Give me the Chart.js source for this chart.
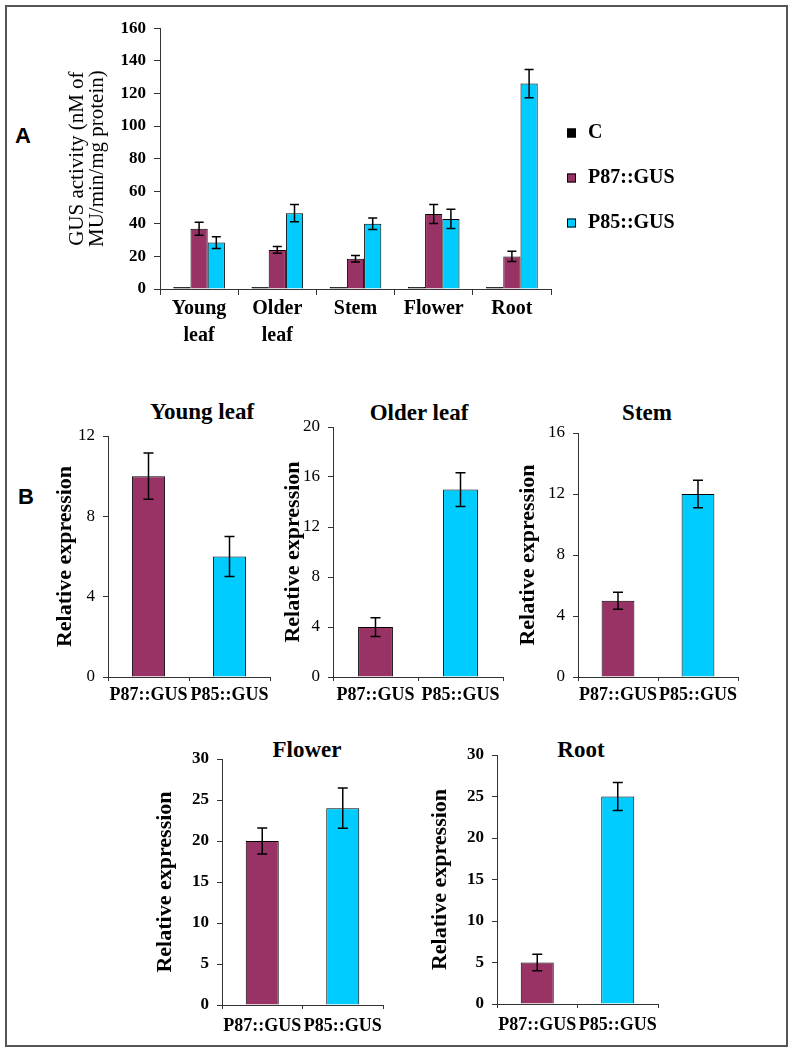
<!DOCTYPE html>
<html>
<head>
<meta charset="utf-8">
<script src="https://cdn.jsdelivr.net/npm/chart.js@4.4.1/dist/chart.umd.min.js"></script>
<style>
  body { margin: 0; background: #fff; }
  #fig { position: relative; width: 794px; height: 1053px; }
  #frame { position: absolute; left: 5px; top: 5px; width: 783px; height: 1042px; border: 2px solid #555; box-sizing: border-box; }
  canvas { position: absolute; }
  .lbl { position: absolute; transform: translate(-50%, -50%); font-family: 'Times New Roman', 'Liberation Serif', serif; font-weight: bold; white-space: nowrap; color: #000; }
  .panel { font-family: Arial, 'Liberation Sans', sans-serif; font-size: 22px; }
  .ttl { font-size: 23px; }
</style>
</head>
<body>
<div id="fig">
  <div id="frame"></div>
  <div class="lbl panel" style="left:23px;top:136px">A</div>
  <div class="lbl panel" style="left:26px;top:497px">B</div>
  <div class="lbl ttl" style="left:202px;top:412px">Young leaf</div>
  <div class="lbl ttl" style="left:419px;top:413px">Older leaf</div>
  <div class="lbl ttl" style="left:647px;top:413px">Stem</div>
  <div class="lbl ttl" style="left:307px;top:750px">Flower</div>
  <div class="lbl ttl" style="left:581px;top:750px">Root</div>
  <canvas id="chartA" width="700" height="340" style="left:10px;top:10px"></canvas>
  <canvas id="chartYoung" width="240" height="320" style="left:40px;top:400px"></canvas>
  <canvas id="chartOlder" width="240" height="320" style="left:275px;top:400px"></canvas>
  <canvas id="chartStem" width="240" height="320" style="left:515px;top:400px"></canvas>
  <canvas id="chartFlower" width="250" height="320" style="left:150px;top:730px"></canvas>
  <canvas id="chartRoot" width="260" height="320" style="left:420px;top:730px"></canvas>
</div>
<script>
const SERIF = "'Times New Roman', 'Liberation Serif', serif";
const MAROON = '#993366';
const CYAN = '#00CCFF';

// Panel A: GUS activity
const tissues = [['Young', 'leaf'], ['Older', 'leaf'], 'Stem', 'Flower', 'Root'];
const controlGus = [0.5, 0.5, 0.5, 0.5, 1];
const p87Gus = [37, 24, 18.5, 46, 20];
const p85Gus = [28.5, 46.5, 40, 43, 126];
const p87GusErr = [4, 2, 2, 5.8, 3.2];
const p85GusErr = [3.6, 5.3, 3.5, 5.9, 8.6];

// Panel B: relative expression
const constructs = ['P87::GUS', 'P85::GUS'];
const youngLeafExpr = [10, 6];
const youngLeafErr = [1.15, 1.0];
const olderLeafExpr = [4, 15];
const olderLeafErr = [0.75, 1.35];
const stemExpr = [5, 12];
const stemErr = [0.55, 0.9];
const flowerExpr = [20, 24];
const flowerErr = [1.6, 2.45];
const rootExpr = [5, 25];
const rootErr = [1.0, 1.7];

// error bars drawn from dataset.errors
const errorBars = {
  id: 'errorBars',
  afterDatasetsDraw(chart, args, opts) {
    const ctx = chart.ctx;
    const y = chart.scales.y;
    const cap = opts.cap || 5;
    chart.data.datasets.forEach((ds, i) => {
      if (!ds.errors) return;
      const meta = chart.getDatasetMeta(i);
      meta.data.forEach((bar, j) => {
        const e = ds.errors[j];
        if (!e) return;
        const v = ds.data[j];
        const top = y.getPixelForValue(v + e);
        const bot = y.getPixelForValue(v - e);
        ctx.save();
        ctx.strokeStyle = '#000';
        ctx.lineWidth = 1.5;
        ctx.beginPath();
        ctx.moveTo(bar.x, top); ctx.lineTo(bar.x, bot);
        ctx.moveTo(bar.x - cap, top); ctx.lineTo(bar.x + cap, top);
        ctx.moveTo(bar.x - cap, bot); ctx.lineTo(bar.x + cap, bot);
        ctx.stroke();
        ctx.restore();
      });
    });
  }
};

// legend to the right of panel A
const sideLegend = {
  id: 'sideLegend',
  afterDraw(chart, args, opts) {
    if (!opts.show) return;
    const ctx = chart.ctx;
    ctx.save();
    ctx.font = 'bold 20px ' + SERIF;
    ctx.textBaseline = 'middle';
    chart.data.datasets.forEach((ds, i) => {
      const cy = opts.y + i * opts.gap;
      ctx.fillStyle = ds.backgroundColor;
      ctx.fillRect(opts.x, cy - 4.5, 9, 9);
      ctx.strokeStyle = '#000';
      ctx.lineWidth = 1;
      ctx.strokeRect(opts.x + 0.5, cy - 4, 8, 8);
      ctx.fillStyle = '#000';
      ctx.fillText(ds.label, opts.x + 21, cy);
    });
    ctx.restore();
  }
};

new Chart(document.getElementById('chartA'), {
  type: 'bar',
  data: {
    labels: tissues,
    datasets: [
      { label: 'C', data: controlGus, backgroundColor: '#000', minBarLength: 2 },
      { label: 'P87::GUS', data: p87Gus, errors: p87GusErr, backgroundColor: MAROON },
      { label: 'P85::GUS', data: p85Gus, errors: p85GusErr, backgroundColor: CYAN }
    ]
  },
  options: {
    responsive: false,
    animation: false,
    layout: { padding: { top: 14, right: 159, left: 0, bottom: 0 } },
    datasets: { bar: { categoryPercentage: 0.66, barPercentage: 1, borderColor: '#000', borderWidth: 1 } },
    plugins: {
      legend: { display: false },
      tooltip: { enabled: false },
      errorBars: { cap: 4.5 },
      sideLegend: { show: true, x: 557, y: 123, gap: 45 }
    },
    scales: {
      x: {
        afterFit(s) { s.height = 61; },
        grid: { drawOnChartArea: false, tickLength: 6, color: '#333' },
        border: { color: '#333', width: 1 },
        ticks: { color: '#000', padding: 0, maxRotation: 0, minRotation: 0, autoSkip: false,
                 font: { family: SERIF, size: 20, weight: 'bold', lineHeight: '27px' } }
      },
      y: {
        min: 0, max: 160,
        afterFit(s) { s.width = 150; },
        grid: { drawOnChartArea: false, tickLength: 6, color: '#333' },
        border: { color: '#333', width: 1 },
        ticks: { stepSize: 20, color: '#000', padding: 8, font: { family: SERIF, size: 17, weight: 'bold' } },
        title: {
          display: true,
          text: ['GUS activity (nM of', 'MU/min/mg protein)'],
          color: '#000',
          padding: { top: 57, bottom: 0 },
          font: { family: SERIF, size: 21, lineHeight: '20px' }
        }
      }
    }
  },
  plugins: [errorBars, sideLegend]
});

function expressionChart(id, values, errs, yMax, step, box) {
  new Chart(document.getElementById(id), {
    type: 'bar',
    data: {
      labels: constructs,
      datasets: [{ data: values, errors: errs, backgroundColor: [MAROON, CYAN], borderColor: '#000', borderWidth: 1 }]
    },
    options: {
      responsive: false,
      animation: false,
      layout: { padding: { top: box.top, right: box.right, left: 0, bottom: 0 } },
      datasets: { bar: { categoryPercentage: 1, barPercentage: 0.41 } },
      plugins: {
        legend: { display: false },
        tooltip: { enabled: false },
        errorBars: { cap: 5 }
      },
      scales: {
        x: {
          afterFit(s) { s.height = box.xh; },
          grid: { drawOnChartArea: false, tickLength: 4, color: '#333' },
          border: { color: '#333', width: 1 },
          ticks: { color: '#000', padding: box.labelPad, maxRotation: 0, minRotation: 0, autoSkip: false,
                   font: { family: SERIF, size: 18, weight: 'bold', lineHeight: 0.8 } }
        },
        y: {
          min: 0, max: yMax,
          afterFit(s) { s.width = box.yw; },
          grid: { drawOnChartArea: false, tickLength: 5, color: '#333' },
          border: { color: '#333', width: 1 },
          ticks: { stepSize: step, color: '#000', padding: 8, font: { family: SERIF, size: 17, weight: box.tickWeight } },
          title: {
            display: true,
            text: 'Relative expression',
            color: '#000',
            padding: { top: box.titlePad, bottom: 0 },
            font: { family: SERIF, size: 22, weight: 'bold', lineHeight: 1 }
          }
        }
      }
    },
    plugins: [errorBars]
  });
}

expressionChart('chartYoung', youngLeafExpr, youngLeafErr, 12, 4,
  { top: 36, right: 10, yw: 68, xh: 43, titlePad: 14, labelPad: 7, tickWeight: 'normal' });
expressionChart('chartOlder', olderLeafExpr, olderLeafErr, 20, 4,
  { top: 27, right: 12, yw: 58, xh: 43, titlePad: 7, labelPad: 7, tickWeight: 'normal' });
expressionChart('chartStem', stemExpr, stemErr, 16, 4,
  { top: 33, right: 17, yw: 63, xh: 43, titlePad: 2, labelPad: 7, tickWeight: 'normal' });
expressionChart('chartFlower', flowerExpr, flowerErr, 30, 5,
  { top: 29, right: 17, yw: 72, xh: 45, titlePad: 4, labelPad: 10, tickWeight: 'bold' });
expressionChart('chartRoot', rootExpr, rootErr, 30, 5,
  { top: 25, right: 22, yw: 77, xh: 46, titlePad: 9, labelPad: 10, tickWeight: 'bold' });
</script>
</body>
</html>
